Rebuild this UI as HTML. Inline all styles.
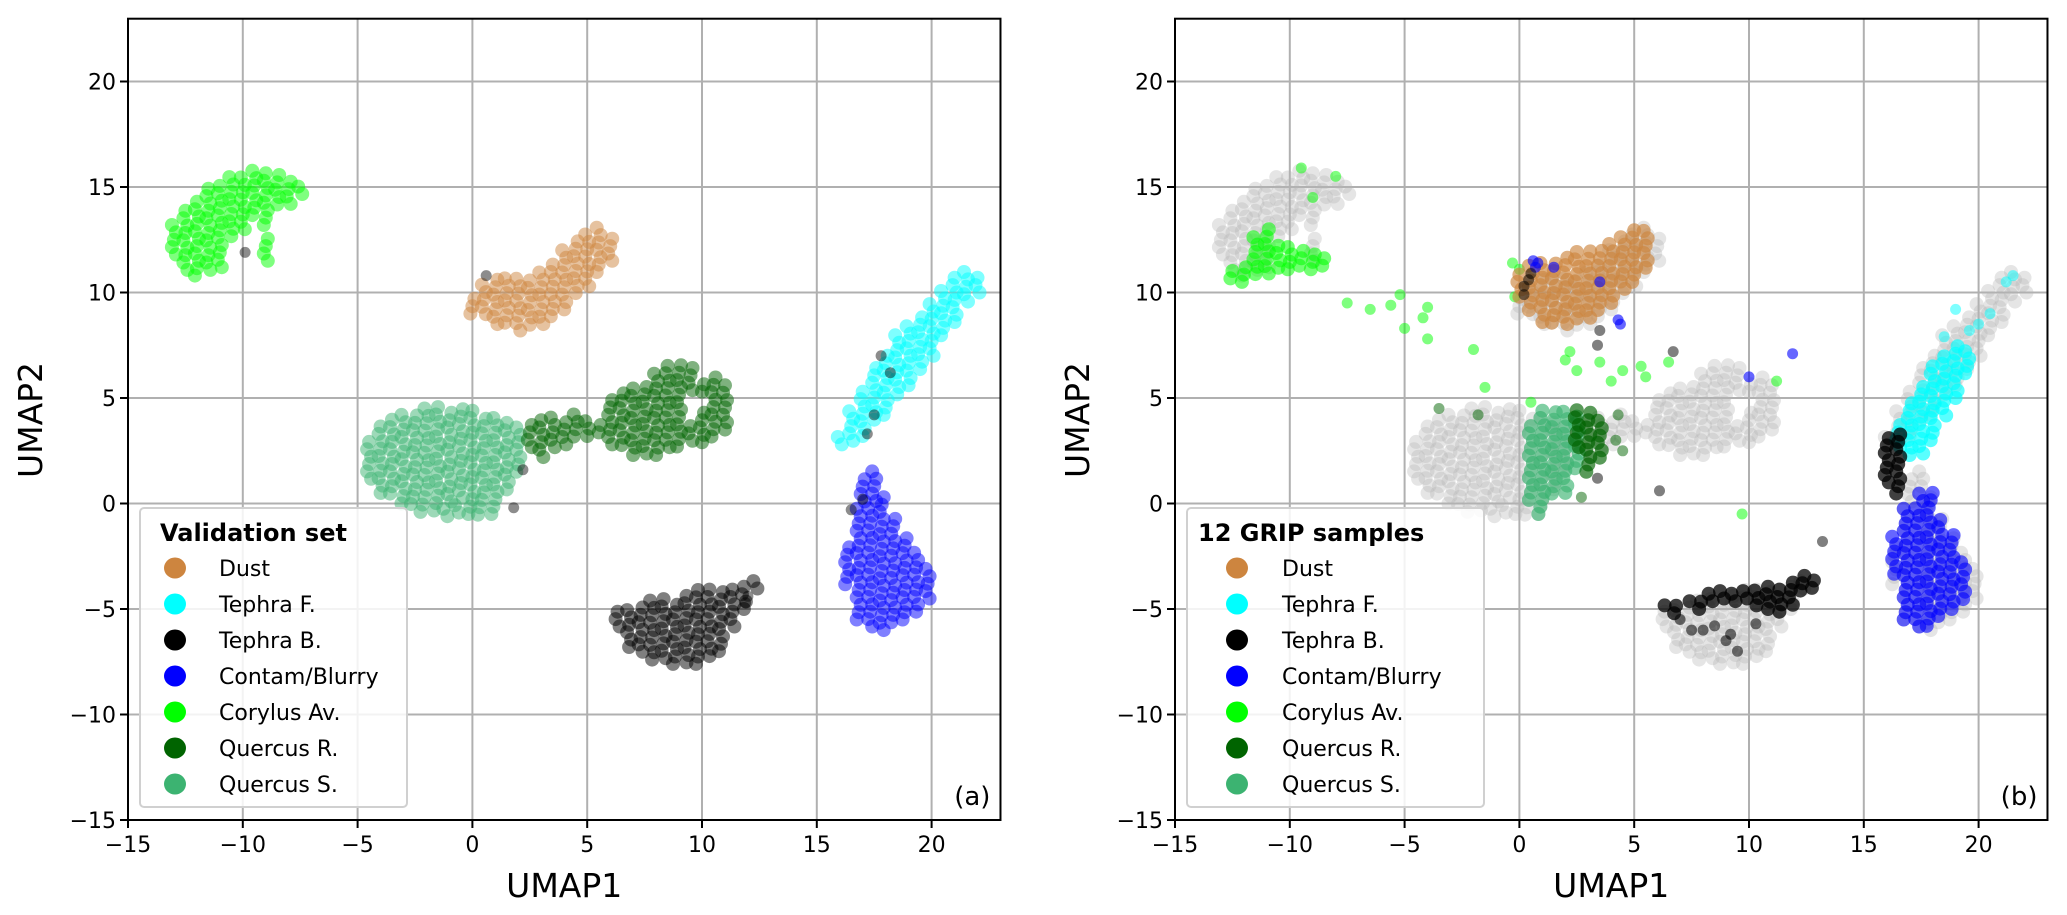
<!DOCTYPE html>
<html><head><meta charset="utf-8"><style>
body{margin:0;background:#fff;}
svg{display:block;font-family:"DejaVu Sans","Liberation Sans",sans-serif;}
</style></head><body>
<svg id="chart" width="2067" height="915" viewBox="0 0 2067 915" xmlns="http://www.w3.org/2000/svg"></svg>
<script>
// ---- data (UMAP coordinates, cluster spans: [x, yLow, yHigh]) ----
const categories = ["Dust","Tephra F.","Tephra B.","Contam/Blurry","Corylus Av.","Quercus R.","Quercus S."];
const catColors = ["#cd853f","#00ffff","#000000","#0000ff","#00ff00","#006400","#3cb371"];
const xTicks = [-15,-10,-5,0,5,10,15,20];
const yTicks = [-15,-10,-5,0,5,10,15,20];

const valCorylus = [[-13,11.8,13.2],[-12.5,10.9,14],[-12,10.8,14.6],[-11.5,10.9,15],[-11,11.2,15.3],[-10.5,12.5,15.5],[-10,13,15.6],[-9.5,13.5,15.8],[-9,11.5,12.7],[-9,13.2,15.8],[-8.5,14,15.7],[-8,14.2,15.5],[-7.5,14.5,15.2]];
const valDust = [[0,9,9.8],[0.5,8.8,10.5],[1,8.5,10.8],[1.5,8.4,10.9],[2,8.2,10.8],[2.5,8.3,10.6],[3,8.5,11],[3.5,8.7,11.5],[4,9.2,12],[4.5,9.8,12.6],[5,10.3,13],[5.5,10.8,13.3],[6,11.5,12.8]];
const valQuercusS = [[-4.5,1,3],[-4,0.5,3.8],[-3.5,0.3,4.2],[-3,0,4.4],[-2.5,-0.2,4.5],[-2,-0.4,4.6],[-1.5,-0.5,4.6],[-1,-0.6,4.5],[-0.5,-0.6,4.6],[0,-0.5,4.6],[0.5,-0.7,4.3],[1,-0.5,4.2],[1.5,0.5,4],[2,1.5,3.6]];
const valQuercusR = [[2.5,2.5,4],[3,2.2,4.2],[3.5,2.5,4.3],[4,2.8,4.1],[4.5,3,4.5],[5,3.2,4.2],[5.5,3.2,4],[6,2.8,5],[6.5,2.6,5.4],[7,2.3,5.6],[7.5,2.2,5.8],[8,2.3,6.2],[8.5,2.5,6.8],[9,2.7,6.8],[9.5,2.8,3.8],[9.5,5.2,6.5],[10,2.9,4.5],[10,5.3,5.8],[10.5,3,6.2],[11,3.5,5.8]];
const valTephraF = [[16,2.8,3.3],[16.5,2.8,4.5],[17,3.2,5.5],[17.5,3.8,6.5],[18,4.2,7.2],[18.5,5,8],[19,5.6,8.6],[19.5,6.2,9],[20,7,9.5],[20.5,7.8,10.2],[21,8.6,10.8],[21.5,9.4,11.2],[22,10,11]];
const valContam = [[16.5,-4,-2],[17,-5.5,1.3],[17.5,-6,1.8],[18,-6,0.3],[18.5,-5.8,-0.5],[19,-5.5,-1.5],[19.5,-5.3,-2.2],[20,-4.5,-2.8]];
const valTephraB = [[6.5,-6,-5],[7,-6.8,-4.8],[7.5,-7.2,-4.6],[8,-7.4,-4.6],[8.5,-7.5,-4.4],[9,-7.6,-4.5],[9.5,-7.7,-4.2],[10,-7.6,-4],[10.5,-7.4,-4],[11,-7,-4],[11.5,-6,-4],[12,-5,-3.8],[12.5,-4.2,-3.4]];
const valOddPts = [[0.6,10.8],[-9.9,11.9],[1.8,-0.2],[2.2,1.6],[11.9,-4.7],[12,-4.4],[17.2,3.3],[18.2,6.2],[17.8,7.0],[17.5,4.2],[16.5,-0.3],[17,0.2]];

const gripCorylus = [[-12.5,10.5,11.3],[-12,10.5,11.5],[-11.5,10.7,12.8],[-11,10.9,13],[-10.5,11,12.5],[-10,11.1,12.2],[-9.5,11.1,12],[-9,11.1,12],[-8.5,11.1,11.7]];
const gripCorylusPts = [[-9.5,15.9],[-8,15.5],[-9,14.5],[-5.2,9.9],[-5.6,9.4],[-7.5,9.5],[-6.5,9.2],[-4,9.3],[-4.2,8.8],[-5,8.3],[-4,7.8],[-2,7.3],[-0.2,9.8],[-1.5,5.5],[2,6.8],[2.5,6.3],[3.5,6.7],[2.2,7.2],[4.5,6.3],[5.5,6],[5.3,6.5],[6.5,6.7],[4,5.8],[11.2,5.8],[9.7,-0.5],[0.5,4.8],[-0.3,11.4],[0,11.1]];
const gripDust = [[0,9.8,11],[0.5,9,11.5],[1,8.6,11.5],[1.5,8.4,11.6],[2,8.5,11.8],[2.5,8.6,12],[3,8.8,12.1],[3.5,9,12.3],[4,9.5,12.5],[4.5,10,12.8],[5,10.5,13],[5.5,11,13.2]];
const gripBluePts = [[0.6,11.5],[0.7,11.2],[0.8,11.4],[1.5,11.2],[3.5,10.5],[4.3,8.7],[4.4,8.5],[10,6],[11.9,7.1]];
const gripBlackPts = [[0.2,10.3],[0.4,10.6],[0.2,9.9],[0.5,10.9],[3.5,8.2],[3.4,7.5],[6.7,7.2],[6.1,0.6],[13.2,-1.8],[3.4,1.2]];
const gripQuercusS = [[0.5,0,3.8],[1,-0.5,4.4],[1.5,0.3,4.5],[2,0.5,4.5],[2.5,1.5,4.2]];
const gripQuercusR = [[2.5,2.5,4.6],[3,1.5,4.6],[3.5,2,4.2]];
const gripQuercusRPts = [[4.2,3],[4.5,2.5],[4.3,4.2],[2.7,0.3],[-1.8,4.2],[-3.5,4.5]];
const gripTephraF = [[16.5,2.5,4],[17,2.3,5],[17.5,2.2,5.8],[18,3,6.5],[18.5,4,7],[19,5,7.5],[19.5,6,7.5]];
const gripTephraFPts = [[20,8.5],[20.5,9],[21.2,10.5],[19,9.2],[18.5,7.9],[19.6,8.2],[21.5,10.8]];
const gripBlackCol = [[16,1,3.3],[16.5,0.3,3.3]];
const gripContam = [[16.5,-3.5,-1.5],[17,-5.5,0],[17.5,-6,0.8],[18,-5.8,0.5],[18.5,-5.5,-0.5],[19,-5,-1.5],[19.5,-4.7,-2.5]];
const gripTephraB = [[6.5,-5,-4.8],[7,-5.2,-4.6],[7.5,-4.8,-4.5],[8,-5,-4.4],[8.5,-4.8,-4.2],[9,-4.5,-4.1],[9.5,-4.8,-4],[10,-4.5,-3.9],[10.5,-5,-3.8],[11,-5,-3.9],[11.5,-5.3,-3.8],[12,-4.8,-3.6],[12.5,-4.3,-3.2],[13,-4,-3.5]];
const gripTephraBPts = [[8,-6],[9,-6.5],[9.5,-7],[8.5,-5.8],[7.5,-6],[9.2,-6.2],[7,-5.5],[10.3,-5.7]];

// ---- layout ----
const NS = "http://www.w3.org/2000/svg";
const svg = document.getElementById("chart");
const panels = [{x0:128, label:"(a)", title:"Validation set"},{x0:1175, label:"(b)", title:"12 GRIP samples"}];
const PX = 22.96, PY = 21.1, YTOP = 18.7, YBOT = 820, R = 7;
function sx(p, v){ return p.x0 + (v + 15) * PX; }
function sy(v){ return YBOT - (v + 15) * PY; }
function mk(tag, attrs, parent){ const e = document.createElementNS(NS, tag); for (const k in attrs) e.setAttribute(k, attrs[k]); (parent||svg).appendChild(e); return e; }

function drawSpans(p, g, spans, color, op, name){
  spans.forEach(s => {
    const off = (Math.round(s[0] * 2) % 2) ? 0.17 : 0;
    for (let y = s[1] + off; y <= s[2] + 0.001; y += 0.35) {
      const c = mk("circle", {cx: (sx(p, s[0]) + ((Math.round(y*20))%3-1)*2).toFixed(1), cy: sy(y).toFixed(1), r: R, fill: color, "fill-opacity": op}, g);
      
      
    }
  });
}
function drawPts(p, g, pts, color, op, name){
  pts.forEach(q => {
    const c = mk("circle", {cx: sx(p, q[0]).toFixed(1), cy: sy(q[1]).toFixed(1), r: 5.5, fill: color, "fill-opacity": op}, g);
    
    
  });
}

panels.forEach((p, pi) => {
  const ax = mk("g", {});
  
  
  const x1 = sx(p, 23);
  xTicks.forEach(t => { if (t > -15) { const l = mk("line", {x1: sx(p,t), x2: sx(p,t), y1: YTOP, y2: YBOT, stroke: "#b0b0b0", "stroke-width": 2}, ax);   } });
  yTicks.forEach(t => { if (t > -15) { const l = mk("line", {x1: p.x0, x2: x1, y1: sy(t), y2: sy(t), stroke: "#b0b0b0", "stroke-width": 2}, ax);   } });
  const g = mk("g", {}, ax);
  
  
  if (pi === 0) {
    drawSpans(p, g, valCorylus, catColors[4], 0.5, 'point-corylus');
    drawSpans(p, g, valDust, catColors[0], 0.5, 'point-dust');
    drawSpans(p, g, valQuercusS, catColors[6], 0.5, 'point-quercus-s');
    drawSpans(p, g, valQuercusR, catColors[5], 0.5, 'point-quercus-r');
    drawSpans(p, g, valTephraF, catColors[1], 0.5, 'point-tephra-f');
    drawSpans(p, g, valContam, catColors[3], 0.5, 'point-contam');
    drawSpans(p, g, valTephraB, catColors[2], 0.5, 'point-tephra-b');
    drawPts(p, g, valOddPts, "#000", 0.45, 'point-misc');
  } else {
    [valCorylus, valDust, valQuercusS, valQuercusR, valTephraF, valContam, valTephraB].forEach(s => drawSpans(p, g, s, "#b4b4b4", 0.35, 'point-validation-grey'));
    drawSpans(p, g, gripCorylus, catColors[4], 0.55, 'point-corylus');
    drawPts(p, g, gripCorylusPts, catColors[4], 0.5, 'point-corylus');
    drawSpans(p, g, gripDust, catColors[0], 0.65, 'point-dust');
    drawPts(p, g, gripBluePts, catColors[3], 0.6, 'point-contam');
    drawPts(p, g, gripBlackPts, "#000", 0.5, 'point-tephra-b');
    drawSpans(p, g, gripQuercusS, catColors[6], 0.65, 'point-quercus-s');
    drawSpans(p, g, gripQuercusR, catColors[5], 0.65, 'point-quercus-r');
    drawPts(p, g, gripQuercusRPts, catColors[5], 0.5, 'point-quercus-r');
    drawSpans(p, g, gripTephraF, catColors[1], 0.65, 'point-tephra-f');
    drawPts(p, g, gripTephraFPts, catColors[1], 0.5, 'point-tephra-f');
    drawSpans(p, g, gripBlackCol, "#000", 0.75, 'point-tephra-b');
    drawSpans(p, g, gripContam, catColors[3], 0.6, 'point-contam');
    drawSpans(p, g, gripTephraB, "#000", 0.75, 'point-tephra-b');
    drawPts(p, g, gripTephraBPts, "#000", 0.55, 'point-tephra-b');
  }
  const fr = mk("rect", {x: p.x0, y: YTOP, width: x1 - p.x0, height: YBOT - YTOP, fill: "none", stroke: "#000", "stroke-width": 2}, ax);
   
  xTicks.forEach(t => {
    mk("line", {x1: sx(p,t), x2: sx(p,t), y1: YBOT, y2: YBOT + 8, stroke: "#000", "stroke-width": 2}, ax);
    const tx = mk("text", {x: sx(p,t), y: YBOT + 32, "font-size": 22, "text-anchor": "middle", fill: "#000"}, ax);
    tx.textContent = String(t).replace("-", "\u2212");
     
  });
  yTicks.forEach(t => {
    mk("line", {x1: p.x0 - 8, x2: p.x0, y1: sy(t), y2: sy(t), stroke: "#000", "stroke-width": 2}, ax);
    const tx = mk("text", {x: p.x0 - 12, y: sy(t) + 8, "font-size": 22, "text-anchor": "end", fill: "#000"}, ax);
    tx.textContent = String(t).replace("-", "\u2212");
     
  });
  const xl = mk("text", {x: (p.x0 + x1) / 2, y: 897, "font-size": 33, "text-anchor": "middle"}, ax);
  xl.textContent = "UMAP1";  
  const yl = mk("text", {x: 0, y: 0, "font-size": 33, "text-anchor": "middle", transform: `translate(${p.x0 - 86},420) rotate(-90)`}, ax);
  yl.textContent = "UMAP2";  
  const pl = mk("text", {x: x1 - 10, y: 805, "font-size": 26, "text-anchor": "end"}, ax);
  pl.textContent = p.label;  
  const lx = p.x0 + 12, lw = pi ? 297 : 267;
  const lg = mk("g", {}, ax);
   
  mk("rect", {x: lx, y: 508, width: lw, height: 299, rx: 4, fill: "#fff", "fill-opacity": 0.85, stroke: "#d0d0d0", "stroke-width": 2}, lg);
  const lt = mk("text", {x: lx + (pi ? 11 : 20), y: 541, "font-size": 24, "font-weight": "bold"}, lg);
  lt.textContent = p.title;  
  const mx = pi ? 1237 : 175, tx0 = pi ? 1282 : 219;
  categories.forEach((c, i) => {
    const cy = 568 + i * 36;
    const e = mk("g", {}, lg);
     
    mk("ellipse", {cx: mx, cy: cy, rx: 11, ry: 10.5, fill: catColors[i]}, e);
    const t = mk("text", {x: tx0, y: cy + 8, "font-size": 22}, e);
    t.textContent = c;
  });
});
</script>
</body></html>
